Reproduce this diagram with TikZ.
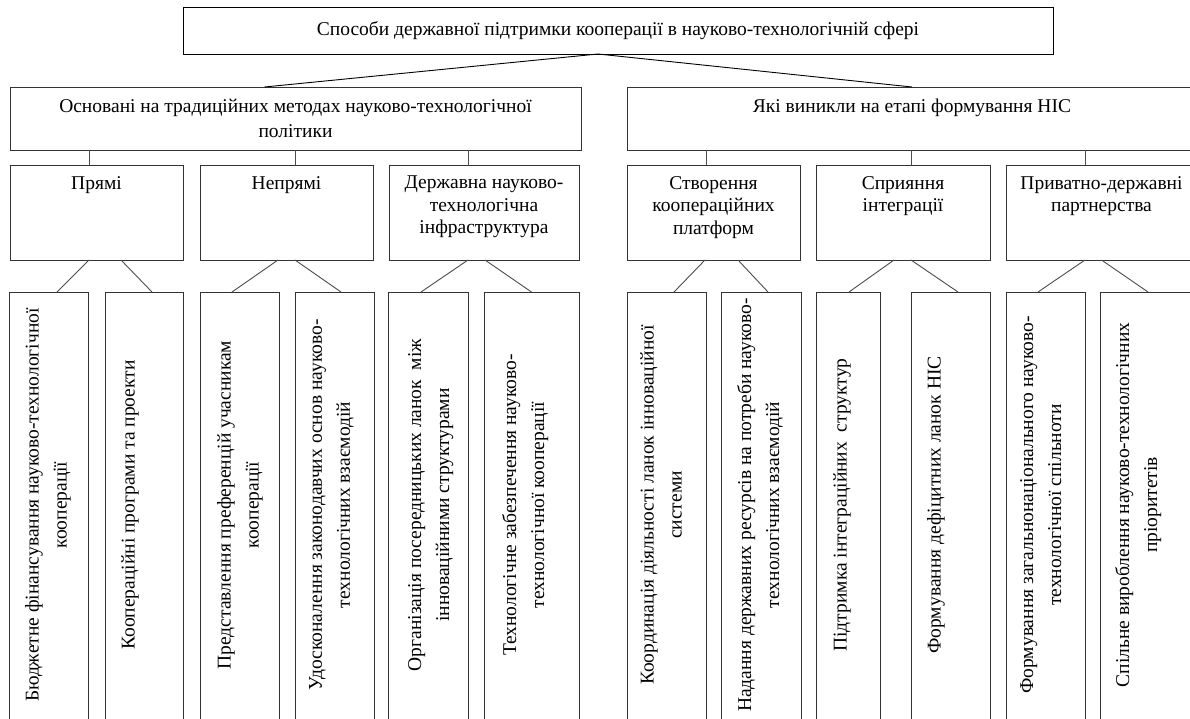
\documentclass[tikz,border=0pt]{standalone}
\usepackage{fontspec}
\setmainfont{Liberation Serif}
\usetikzlibrary{positioning}

\begin{document}
\begin{tikzpicture}[
        x=1pt, y=-1pt,
        % boxes of the tree
        box/.style={draw=black!80, line width=1pt, inner sep=0pt, outer sep=0pt, anchor=north west},
        lvltwo/.style={box, minimum height=63},
        lvlthree/.style={box, minimum height=95},
        lvlfour/.style={box, minimum height=440},
        % texts inside the boxes
        txtwo/.style={font=\fontsize{19.5}{25}\selectfont, align=center, inner sep=0pt},
        txthree/.style={font=\fontsize{19.5}{22.5}\selectfont, align=center, inner sep=0pt},
        txfour/.style={font=\fontsize{19.5}{28}\selectfont, align=center, inner sep=0pt,
            rotate=90, anchor=north},
        link/.style={draw=black!70, line width=0.9pt},
        node distance=0pt
    ]

    \useasboundingbox (0,0) rectangle (1190,718);
    \clip (0,0) rectangle (1190,718);

    % ==========================================
    % ROOT
    % ==========================================
    \node[box, draw=black, minimum width=870, minimum height=47,
          font=\fontsize{19.5}{22}\selectfont] (root) at (183,7)
        {\raisebox{3pt}{Способи державної підтримки кооперації в науково-технологічній сфері}};

    % ==========================================
    % SECOND LEVEL
    % ==========================================
    \node[lvltwo, minimum width=571] (trad) at (10,87) {};
    \node[txtwo, below=12pt of trad.north] (tradtx)
        {Основані на традиційних методах науково-технологічної\\політики};

    \node[lvltwo, minimum width=570] (nis) at (627,87) {};
    \node[txtwo, below=12pt of nis.north] (nistx) {Які виникли на етапі формування НІС};

    \draw[link, draw=black] ([xshift=-20pt]root.south) -- ([xshift=-31pt]trad.north);
    \draw[link, draw=black] ([xshift=-20pt]root.south) -- (nis.north);

    % ==========================================
    % THIRD LEVEL
    % ==========================================
    \node[lvlthree, minimum width=173] (pryami) at (10,165) {};
    \node[lvlthree, minimum width=173, right=17pt of pryami] (nepryami) {};
    \node[lvlthree, minimum width=190, right=16pt of nepryami] (infra) {};

    \node[lvlthree, minimum width=173] (platf) at (627,165) {};
    \node[lvlthree, minimum width=174, right=16pt of platf] (integr) {};
    \node[lvlthree, minimum width=191, right=16pt of integr] (partn) {};

    \node[txthree, below=11pt of pryami.north] (pryamitx) {Прямі};
    \node[txthree, below=11pt of nepryami.north] (nepryamitx) {Непрямі};
    \node[txthree, below=11pt of infra.north] (infratx)
        {Державна науково-\\технологічна\\інфраструктура};
    \node[txthree, below=11pt of platf.north] (platftx)
        {Створення\\коопераційних\\платформ};
    \node[txthree, below=11pt of integr.north] (integrtx) {Сприяння\\інтеграції};
    \node[txthree, below=11pt of partn.north] (partntx) {Приватно-державні\\партнерства};

    % vertical links from the second level
    \foreach \blk/\sh in {pryami/-7.5, nepryami/8.5, infra/-16}
        \draw[link] ([xshift=\sh pt]\blk.north) -- ([xshift=\sh pt]\blk.north |- trad.south);
    \foreach \blk/\sh in {platf/-7.5, integr/8, partn/-16.5}
        \draw[link] ([xshift=\sh pt]\blk.north) -- ([xshift=\sh pt]\blk.north |- nis.south);

    % ==========================================
    % FOURTH LEVEL
    % ==========================================
    \node[lvlfour, minimum width=79] (fin) at (9,292) {};
    \node[lvlfour, minimum width=78, right=17pt of fin] (progr) {};
    \node[lvlfour, minimum width=79, right=17pt of progr] (pref) {};
    \node[lvlfour, minimum width=79, right=16pt of pref] (zakon) {};
    \node[lvlfour, minimum width=80, right=14pt of zakon] (poser) {};
    \node[lvlfour, minimum width=95, right=16pt of poser] (tehn) {};

    \node[lvlfour, minimum width=79] (koord) at (627,292) {};
    \node[lvlfour, minimum width=80, right=15pt of koord] (resurs) {};
    \node[lvlfour, minimum width=64, right=15pt of resurs] (pidtr) {};
    \node[lvlfour, minimum width=79, right=31pt of pidtr] (defic) {};
    \node[lvlfour, minimum width=79, right=16pt of defic] (spilnota) {};
    \node[lvlfour, minimum width=100, right=15pt of spilnota] (priorit) {};

    \node[txfour] (fintx) at ([xshift=16pt, yshift=-213pt]fin.north west)
        {Бюджетне фінансування науково-технологічної\\кооперації};
    \node[txfour] (progrtx) at ([xshift=16pt, yshift=-213pt]progr.north west)
        {Коопераційні програми та проекти};
    \node[txfour] (preftx) at ([xshift=17pt, yshift=-213pt]pref.north west)
        {Представлення преференцій учасникам\\кооперації};
    \node[txfour] (zakontx) at ([xshift=14pt, yshift=-213pt]zakon.north west)
        {Удосконалення законодавчих основ науково-\\технологічних взаємодій};
    \node[txfour] (posertx) at ([xshift=20pt, yshift=-213pt]poser.north west)
        {Організація посередницьких ланок \ між\\інноваційними структурами};
    \node[txfour] (tehntx) at ([xshift=18pt, yshift=-213pt]tehn.north west)
        {Технологічне забезпечення науково-\\технологічної кооперації};
    \node[txfour] (koordtx) at ([xshift=13pt, yshift=-213pt]koord.north west)
        {Координація діяльності ланок інноваційної\\системи};
    \node[txfour] (resurstx) at ([xshift=16pt, yshift=-213pt]resurs.north west)
        {Надання державних ресурсів на потреби науково-\\технологічних взаємодій};
    \node[txfour] (pidtrtx) at ([xshift=17pt, yshift=-213pt]pidtr.north west)
        {Підтримка інтеграційних \ структур};
    \node[txfour] (defictx) at ([xshift=16pt, yshift=-213pt]defic.north west)
        {Формування дефіцитних ланок НІС};
    \node[txfour] (spilnotatx) at ([xshift=14pt, yshift=-213pt]spilnota.north west)
        {Формування загальнонаціонального науково-\\технологічної спільноти};
    \node[txfour] (priorittx) at ([xshift=15pt, yshift=-213pt]priorit.north west)
        {Спільне вироблення науково-технологічних\\пріоритетів};

    % diagonal links from the third level
    \draw[link] ([xshift=-7.5pt]pryami.south) -- ([xshift=8.5pt]fin.north);
    \draw[link] ([xshift=24.5pt]pryami.south) -- ([xshift=8pt]progr.north);
    \draw[link] ([xshift=-8.5pt]nepryami.south) -- ([xshift=-7.5pt]pref.north);
    \draw[link] ([xshift=8.5pt]nepryami.south) -- ([xshift=6.5pt]zakon.north);
    \draw[link] ([xshift=-16pt]infra.south) -- ([xshift=-7pt]poser.north);
    \draw[link] ([xshift=1pt]infra.south) -- (tehn.north);
    \draw[link] ([xshift=-8.5pt]platf.south) -- ([xshift=7.5pt]koord.north);
    \draw[link] ([xshift=24.5pt]platf.south) -- ([xshift=7pt]resurs.north);
    \draw[link] ([xshift=-9pt]integr.south) -- ([xshift=1pt]pidtr.north);
    \draw[link] ([xshift=8pt]integr.south) -- ([xshift=7.5pt]defic.north);
    \draw[link] ([xshift=-16.5pt]partn.south) -- ([xshift=-7.5pt]spilnota.north);
    \draw[link] (partn.south) -- ([xshift=-2pt]priorit.north);

\end{tikzpicture}
\end{document}
